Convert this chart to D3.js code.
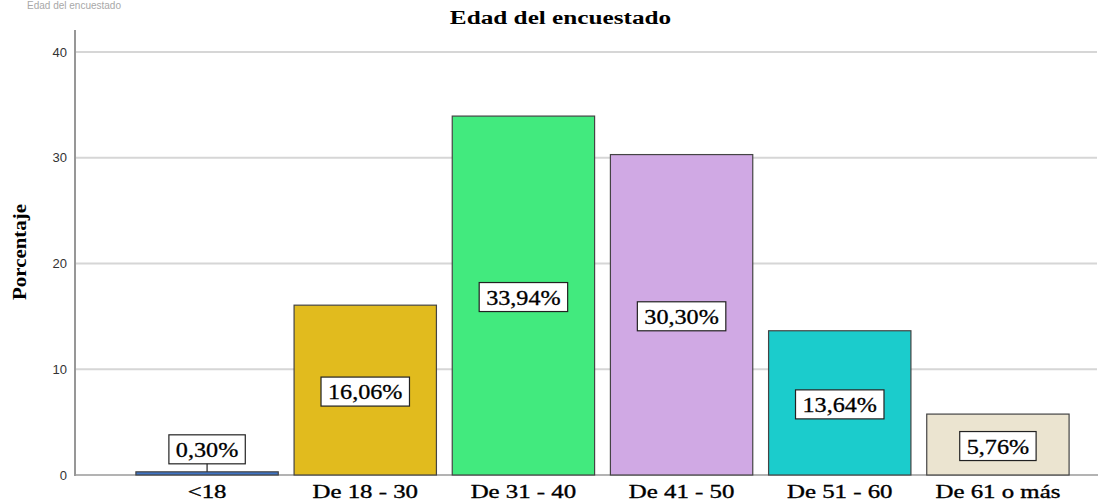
<!DOCTYPE html>
<html>
<head>
<meta charset="utf-8">
<script src="https://cdn.jsdelivr.net/npm/d3@7"></script>
<style>
  html, body { margin: 0; padding: 0; background: #fff; }
  svg { display: block; }
</style>
</head>
<body>
<svg id="chart" width="1098" height="504"></svg>
<script>
const categories = ["<18", "De 18 - 30", "De 31 - 40", "De 41 - 50", "De 51 - 60", "De 61 o más"];
const values = [0.30, 16.06, 33.94, 30.30, 13.64, 5.76];
const valueLabels = ["0,30%", "16,06%", "33,94%", "30,30%", "13,64%", "5,76%"];
const colors = ["#3f74c4", "#e1bb1e", "#42ea7e", "#d0a9e4", "#1bcccc", "#ebe4d0"];
const yTicks = [0, 10, 20, 30, 40];

const svg = d3.select("#chart");

const x = d3.scaleBand().domain(categories).range([128, 1077]).paddingInner(0.1).paddingOuter(0.05);
const y = d3.scaleLinear().domain([0, 40]).range([475, 52]);

// faint header text at very top
svg.append("text").attr("x", 27).attr("y", 9)
  .attr("font-family", "Liberation Sans, Arial, sans-serif").attr("font-size", 10)
  .attr("fill", "#a8a8a8").text("Edad del encuestado");

// gridlines
svg.append("g").selectAll("line").data(yTicks.filter(d => d > 0)).join("line")
  .attr("x1", 76).attr("x2", 1097)
  .attr("y1", d => y(d)).attr("y2", d => y(d))
  .attr("stroke", "#d6d6d6").attr("stroke-width", 1.8);

// y axis
const yAxis = d3.axisLeft(y).tickValues(yTicks).tickSize(0).tickPadding(8);
const yg = svg.append("g").attr("transform", "translate(75,0)").call(yAxis);
yg.select(".domain").remove();
yg.selectAll("text").attr("font-family", "Liberation Sans, Arial, sans-serif")
  .attr("font-size", 13).attr("fill", "#333");
svg.append("line").attr("x1", 75).attr("x2", 75).attr("y1", 30).attr("y2", 476)
  .attr("stroke", "#8c8c8c").attr("stroke-width", 1.8);

// x axis baseline
svg.append("line").attr("x1", 75).attr("x2", 1098).attr("y1", 475).attr("y2", 475)
  .attr("stroke", "#9a9a9a").attr("stroke-width", 1.5);

// bars
svg.append("g").selectAll("rect").data(values).join("rect")
  .attr("x", (d, i) => x(categories[i]))
  .attr("y", d => y(d))
  .attr("width", x.bandwidth())
  .attr("height", d => y(0) - y(d))
  .attr("fill", (d, i) => colors[i])
  .attr("stroke", "#444").attr("stroke-width", 1.2);

function stretch(sel, k) {
  sel.each(function() {
    const len = this.getComputedTextLength();
    d3.select(this).attr("textLength", len * k).attr("lengthAdjust", "spacingAndGlyphs");
  });
}

// value labels
const lg = svg.append("g");
values.forEach((v, i) => {
  const cx = x(categories[i]) + x.bandwidth() / 2;
  const top = y(v), bottom = y(0);
  const boxH = 29;
  const small = (bottom - top) < boxH + 6;
  const cy = small ? top - 8 - boxH / 2 : (top + bottom) / 2 + 1.5;
  const g = lg.append("g");
  const rect = g.append("rect");
  const t = g.append("text").attr("x", cx).attr("y", cy + 7.5)
    .attr("text-anchor", "middle")
    .attr("font-family", "Liberation Serif, Times New Roman, serif")
    .attr("font-size", 21).attr("fill", "#000")
    .attr("stroke", "#000").attr("stroke-width", 0.3)
    .text(valueLabels[i]);
  stretch(t, 1.15);
  const tw = +t.attr("textLength");
  rect.attr("x", cx - tw / 2 - 7).attr("y", cy - boxH / 2)
    .attr("width", tw + 14).attr("height", boxH)
    .attr("fill", "#fff").attr("stroke", "#222").attr("stroke-width", 1.2);
  if (small) {
    g.append("line").attr("x1", cx).attr("x2", cx)
      .attr("y1", cy + boxH / 2).attr("y2", top)
      .attr("stroke", "#222").attr("stroke-width", 1.2);
  }
});

// x labels
const xl = svg.append("g").selectAll("text").data(categories).join("text")
  .attr("x", d => x(d) + x.bandwidth() / 2).attr("y", 498)
  .attr("text-anchor", "middle")
  .attr("font-family", "Liberation Serif, Times New Roman, serif")
  .attr("font-size", 18).attr("fill", "#000")
  .attr("stroke", "#000").attr("stroke-width", 0.35)
  .text(d => d);
stretch(xl, 1.38);

// title
const title = svg.append("text").attr("x", 560.5).attr("y", 24)
  .attr("text-anchor", "middle")
  .attr("font-family", "Liberation Serif, Times New Roman, serif")
  .attr("font-weight", "bold").attr("font-size", 18).attr("fill", "#000")
  .text("Edad del encuestado");
stretch(title, 1.4);

// y label
const yl = svg.append("text").attr("transform", "translate(26,252) rotate(-90)")
  .attr("text-anchor", "middle")
  .attr("font-family", "Liberation Serif, Times New Roman, serif")
  .attr("font-weight", "bold").attr("font-size", 19).attr("fill", "#000")
  .text("Porcentaje");
stretch(yl, 1.1);
</script>
</body>
</html>
